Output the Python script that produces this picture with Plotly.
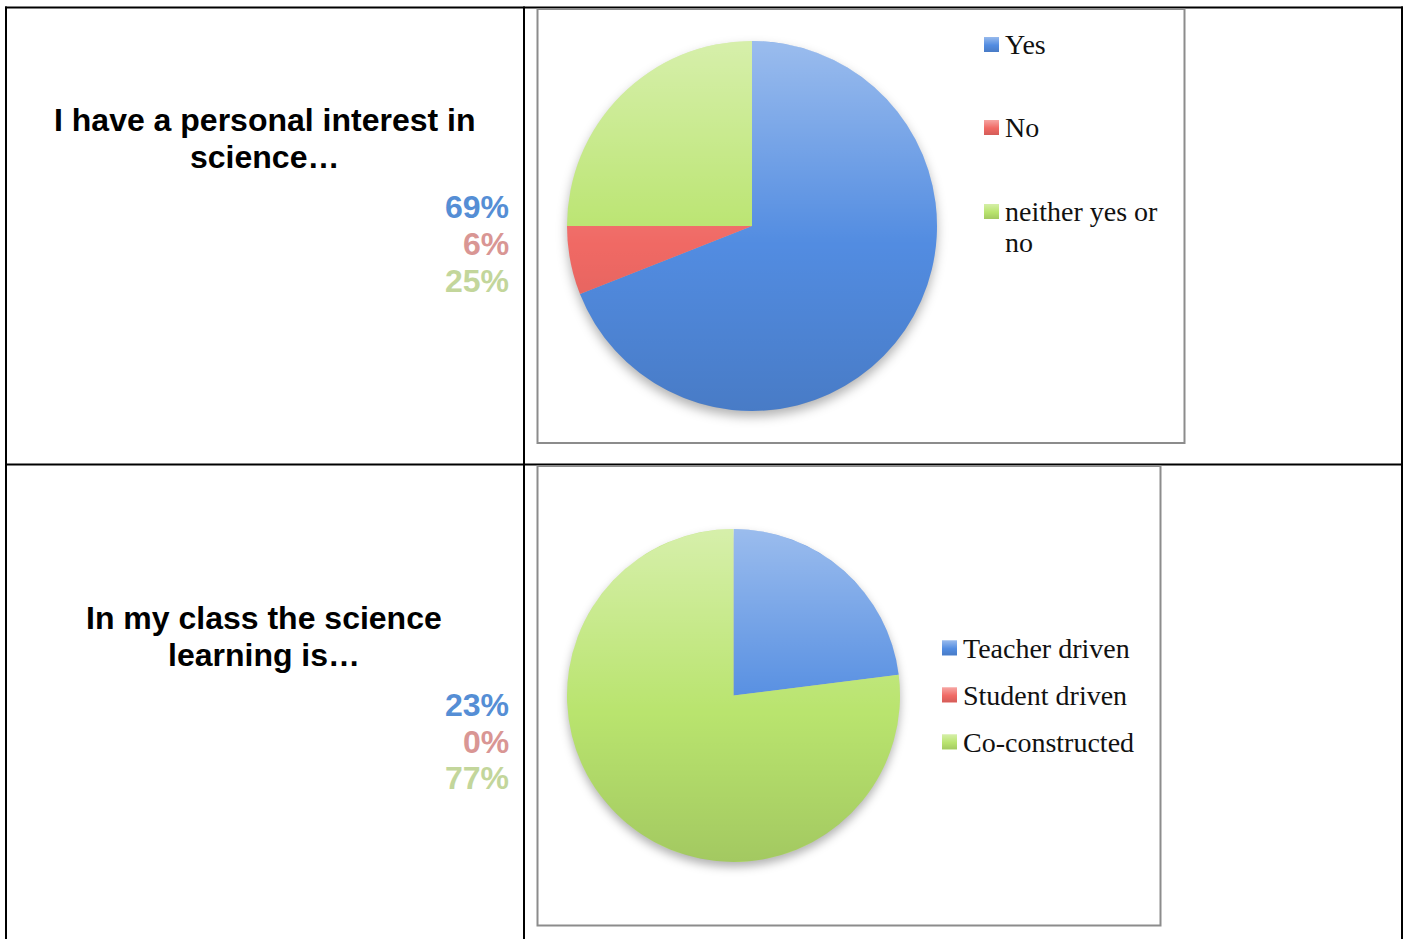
import base64
import textwrap

import plotly.graph_objects as go

# ---- survey data ----------------------------------------------------------
q1_title = ["I have a personal interest in", "science…"]
q1_labels = ["Yes", "No", "neither yes or no"]
q1_values = [69, 6, 25]

q2_title = ["In my class the science", "learning is…"]
q2_labels = ["Teacher driven", "Student driven", "Co-constructed"]
q2_values = [23, 0, 77]

# slice fills (blue / red / green) and the softer tones used for the figures
slice_colors = ["#528CE1", "#F06964", "#B9E46E"]
text_colors = ["#558ED5", "#D99694", "#C3D69B"]

# ---- page geometry (pixels) -------------------------------------------------
W, H = 1409, 939


def px(x):
    return x / W


def py(y):
    return 1 - y / H


def svg_uri(svg):
    return "data:image/svg+xml;base64," + base64.b64encode(svg.encode()).decode()


# vertical light-to-dark shading laid over each pie
SHADE_SVG = svg_uri(
    "<svg xmlns='http://www.w3.org/2000/svg' width='200' height='200' viewBox='0 0 200 200'>"
    "<defs><linearGradient id='g' x1='0' y1='0' x2='0' y2='1'>"
    "<stop offset='0' stop-color='#ffffff' stop-opacity='0.42'/>"
    "<stop offset='0.55' stop-color='#ffffff' stop-opacity='0'/>"
    "<stop offset='0.55' stop-color='#000000' stop-opacity='0'/>"
    "<stop offset='1' stop-color='#000000' stop-opacity='0.12'/>"
    "</linearGradient></defs>"
    "<circle cx='100' cy='100' r='100' fill='url(#g)'/></svg>"
)

# same shading for the small key squares
SWATCH_SVG = svg_uri(
    "<svg xmlns='http://www.w3.org/2000/svg' width='20' height='20' viewBox='0 0 20 20'>"
    "<defs><linearGradient id='g' x1='0' y1='0' x2='0' y2='1'>"
    "<stop offset='0' stop-color='#ffffff' stop-opacity='0.40'/>"
    "<stop offset='0.55' stop-color='#ffffff' stop-opacity='0'/>"
    "<stop offset='0.55' stop-color='#000000' stop-opacity='0'/>"
    "<stop offset='1' stop-color='#000000' stop-opacity='0.12'/>"
    "</linearGradient></defs>"
    "<rect x='0' y='0' width='20' height='20' fill='url(#g)'/></svg>"
)

# soft drop shadow under each pie
SHADOW_SVG = svg_uri(
    "<svg xmlns='http://www.w3.org/2000/svg' width='240' height='240' viewBox='0 0 240 240'>"
    "<defs><filter id='b' x='-20%' y='-20%' width='140%' height='140%'>"
    "<feGaussianBlur stdDeviation='3'/></filter></defs>"
    "<circle cx='120' cy='123' r='100' fill='#000000' fill-opacity='0.30' filter='url(#b)'/></svg>"
)

panels = [
    dict(title=q1_title, labels=q1_labels, values=q1_values,
         title_y=[120, 157], pct_y=[207, 244, 281],
         pie_cx=752, pie_cy=226, pie_r=185,
         box=(537.5, 9, 1184.5, 443),
         sw_x=984, leg_y=[44.5, 127.5, 211.5]),
    dict(title=q2_title, labels=q2_labels, values=q2_values,
         title_y=[618, 655], pct_y=[705, 742, 778],
         pie_cx=733.5, pie_cy=695.5, pie_r=166.5,
         box=(537.5, 466, 1160.5, 925.5),
         sw_x=942, leg_y=[648, 695, 742]),
]

fig = go.Figure()
shapes = []
annotations = []
images = []

LINE = dict(color="#000000", width=2)
# table frame: outer edges, column divider, row divider
shapes += [
    dict(type="line", xref="paper", yref="paper", x0=px(5), x1=px(1403), y0=py(7.5), y1=py(7.5), line=LINE),
    dict(type="line", xref="paper", yref="paper", x0=px(6), x1=px(6), y0=py(6.5), y1=py(945), line=LINE),
    dict(type="line", xref="paper", yref="paper", x0=px(1402), x1=px(1402), y0=py(6.5), y1=py(945), line=LINE),
    dict(type="line", xref="paper", yref="paper", x0=px(524), x1=px(524), y0=py(6.5), y1=py(945), line=LINE),
    dict(type="line", xref="paper", yref="paper", x0=px(5), x1=px(1403), y0=py(464.5), y1=py(464.5), line=LINE),
]

for p in panels:
    cx, cy, r = p["pie_cx"], p["pie_cy"], p["pie_r"]

    # chart frame
    x0, y0, x1, y1 = p["box"]
    shapes.append(dict(type="rect", xref="paper", yref="paper",
                       x0=px(x0), x1=px(x1), y0=py(y1), y1=py(y0),
                       line=dict(color="#8C8C8C", width=2), fillcolor="rgba(0,0,0,0)"))

    fig.add_trace(go.Pie(
        labels=p["labels"], values=p["values"],
        marker=dict(colors=slice_colors, line=dict(width=0)),
        sort=False, direction="clockwise", rotation=0,
        textinfo="none", hoverinfo="label+percent", showlegend=False,
        domain=dict(x=[px(cx - r), px(cx + r)], y=[py(cy + r), py(cy - r)]),
    ))

    # shading over the pie and its shadow beneath
    images.append(dict(source=SHADE_SVG, xref="paper", yref="paper",
                       x=px(cx - r), y=py(cy - r), sizex=2 * r / W, sizey=2 * r / H,
                       xanchor="left", yanchor="top", sizing="stretch", layer="above"))
    images.append(dict(source=SHADOW_SVG, xref="paper", yref="paper",
                       x=px(cx - 1.2 * r), y=py(cy - 1.2 * r), sizex=2.4 * r / W, sizey=2.4 * r / H,
                       xanchor="left", yanchor="top", sizing="stretch", layer="below"))

    # question text
    for line, yy in zip(p["title"], p["title_y"]):
        annotations.append(dict(text=f"<b>{line}</b>", xref="paper", yref="paper",
                                x=px(264), y=py(yy), xanchor="center", yanchor="middle",
                                showarrow=False,
                                font=dict(family="Liberation Sans, Arial", size=32, color="#000000")))

    # percentage figures, one per answer
    for v, c, yy in zip(p["values"], text_colors, p["pct_y"]):
        annotations.append(dict(text=f"<b>{v}%</b>", xref="paper", yref="paper",
                                x=px(511), y=py(yy), xanchor="right", yanchor="middle",
                                showarrow=False,
                                font=dict(family="Liberation Sans, Arial", size=32, color=c)))

    # key: coloured square plus label (long labels wrap)
    for lab, c, yy in zip(p["labels"], slice_colors, p["leg_y"]):
        sx = p["sw_x"]
        shapes.append(dict(type="rect", xref="paper", yref="paper",
                           x0=px(sx), x1=px(sx + 15), y0=py(yy + 7.5), y1=py(yy - 7.5),
                           line=dict(width=0), fillcolor=c, layer="below"))
        images.append(dict(source=SWATCH_SVG, xref="paper", yref="paper",
                           x=px(sx), y=py(yy - 7.5), sizex=15 / W, sizey=15 / H,
                           xanchor="left", yanchor="top", sizing="stretch", layer="above"))
        for k, part in enumerate(textwrap.wrap(lab, 14)):
            annotations.append(dict(text=part, xref="paper", yref="paper",
                                    x=px(sx + 19), y=py(yy + 31 * k), xanchor="left", yanchor="middle",
                                    showarrow=False,
                                    font=dict(family="Liberation Serif, Times New Roman", size=28,
                                              color="#111111")))

fig.update_layout(
    width=W, height=H,
    margin=dict(l=0, r=0, t=0, b=0),
    paper_bgcolor="#FFFFFF", plot_bgcolor="#FFFFFF",
    shapes=shapes, annotations=annotations, images=images,
    showlegend=False,
)

fig.write_html("out.html")
